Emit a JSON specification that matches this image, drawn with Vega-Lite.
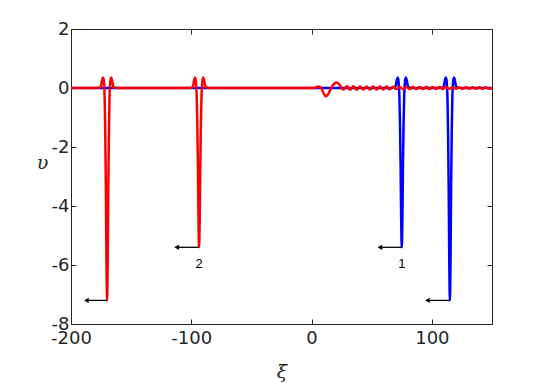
{
  "$schema": "https://vega.github.io/schema/vega-lite/v6.json",
  "width": 421,
  "height": 295,
  "autosize": {"type": "none"},
  "padding": {"left": 71, "top": 29, "right": 53, "bottom": 59},
  "background": "white",
  "config": {
    "view": {"stroke": null},
    "axis": {
      "domainColor": "#262626",
      "tickColor": "#262626",
      "labelColor": "#262626",
      "labelFont": "DejaVu Sans",
      "labelFontSize": 18,
      "labelFlush": false,
      "labelOverlap": false,
      "grid": false,
      "domainWidth": 1,
      "tickWidth": 1,
      "tickSize": -5
    }
  },
  "datasets": {
    "blue": [
      {"xi": -200, "v": 0}, {"xi": 66, "v": 0}, {"xi": 69, "v": 0.02}, {"xi": 70.1, "v": 0.09}, {"xi": 70.8, "v": 0.25},
      {"xi": 71.6, "v": 0.36}, {"xi": 72.1, "v": 0.3}, {"xi": 72.6, "v": 0.05}, {"xi": 73, "v": -0.27}, {"xi": 73.5, "v": -1.19},
      {"xi": 74, "v": -2.59}, {"xi": 74.45, "v": -4.32}, {"xi": 74.78, "v": -5.18}, {"xi": 75, "v": -5.4}, {"xi": 75.22, "v": -5.18},
      {"xi": 75.55, "v": -4.32}, {"xi": 76, "v": -2.59}, {"xi": 76.5, "v": -1.19}, {"xi": 77, "v": -0.27}, {"xi": 77.4, "v": 0.05},
      {"xi": 77.9, "v": 0.3}, {"xi": 78.4, "v": 0.36}, {"xi": 79.2, "v": 0.25}, {"xi": 79.9, "v": 0.09}, {"xi": 81, "v": 0.02},
      {"xi": 84, "v": 0},
      {"xi": 106, "v": 0}, {"xi": 109, "v": 0.02}, {"xi": 110.1, "v": 0.09}, {"xi": 110.8, "v": 0.25},
      {"xi": 111.6, "v": 0.36}, {"xi": 112.1, "v": 0.3}, {"xi": 112.6, "v": 0.05}, {"xi": 113, "v": -0.36}, {"xi": 113.5, "v": -1.58},
      {"xi": 114, "v": -3.46}, {"xi": 114.45, "v": -5.76}, {"xi": 114.78, "v": -6.91}, {"xi": 115, "v": -7.2}, {"xi": 115.22, "v": -6.91},
      {"xi": 115.55, "v": -5.76}, {"xi": 116, "v": -3.46}, {"xi": 116.5, "v": -1.58}, {"xi": 117, "v": -0.36}, {"xi": 117.4, "v": 0.05},
      {"xi": 117.9, "v": 0.3}, {"xi": 118.4, "v": 0.36}, {"xi": 119.2, "v": 0.25}, {"xi": 119.9, "v": 0.09}, {"xi": 121, "v": 0.02},
      {"xi": 124, "v": 0}, {"xi": 150, "v": 0}
    ],
    "red": [
      {"xi": -200, "v": 0}, {"xi": -179, "v": 0}, {"xi": -176, "v": 0.02}, {"xi": -174.9, "v": 0.09}, {"xi": -174.2, "v": 0.25},
      {"xi": -173.4, "v": 0.36}, {"xi": -172.9, "v": 0.3}, {"xi": -172.4, "v": 0.05}, {"xi": -172, "v": -0.36}, {"xi": -171.5, "v": -1.58},
      {"xi": -171, "v": -3.46}, {"xi": -170.55, "v": -5.76}, {"xi": -170.22, "v": -6.91}, {"xi": -170, "v": -7.2}, {"xi": -169.78, "v": -6.91},
      {"xi": -169.45, "v": -5.76}, {"xi": -169, "v": -3.46}, {"xi": -168.5, "v": -1.58}, {"xi": -168, "v": -0.36}, {"xi": -167.6, "v": 0.05},
      {"xi": -167.1, "v": 0.3}, {"xi": -166.6, "v": 0.36}, {"xi": -165.8, "v": 0.25}, {"xi": -165.1, "v": 0.09}, {"xi": -164, "v": 0.02},
      {"xi": -161, "v": 0},
      {"xi": -102.5, "v": 0}, {"xi": -99.5, "v": 0.02}, {"xi": -98.4, "v": 0.09}, {"xi": -97.7, "v": 0.25},
      {"xi": -96.9, "v": 0.36}, {"xi": -96.4, "v": 0.3}, {"xi": -95.9, "v": 0.05}, {"xi": -95.5, "v": -0.27}, {"xi": -95, "v": -1.19},
      {"xi": -94.5, "v": -2.59}, {"xi": -94.05, "v": -4.32}, {"xi": -93.72, "v": -5.18}, {"xi": -93.5, "v": -5.4}, {"xi": -93.28, "v": -5.18},
      {"xi": -92.95, "v": -4.32}, {"xi": -92.5, "v": -2.59}, {"xi": -92, "v": -1.19}, {"xi": -91.5, "v": -0.27}, {"xi": -91.1, "v": 0.05},
      {"xi": -90.6, "v": 0.3}, {"xi": -90.1, "v": 0.36}, {"xi": -89.3, "v": 0.25}, {"xi": -88.6, "v": 0.09}, {"xi": -87.5, "v": 0.02},
      {"xi": -84.5, "v": 0},
      {"xi": 0, "v": 0}, {"xi": 3, "v": 0.01}, {"xi": 5.5, "v": 0.05}, {"xi": 8, "v": 0.0}, {"xi": 10, "v": -0.18},
      {"xi": 12, "v": -0.28}, {"xi": 14, "v": -0.2}, {"xi": 16.5, "v": 0.02}, {"xi": 19, "v": 0.15}, {"xi": 21, "v": 0.19},
      {"xi": 23, "v": 0.12}, {"xi": 25, "v": 0.0},
      {"xi": 26.5, "v": -0.055}, {"xi": 29.25, "v": 0.06}, {"xi": 32, "v": -0.058}, {"xi": 34.75, "v": 0.057},
      {"xi": 37.5, "v": -0.056}, {"xi": 40.25, "v": 0.055}, {"xi": 43, "v": -0.054}, {"xi": 45.75, "v": 0.053},
      {"xi": 48.5, "v": -0.052}, {"xi": 51.25, "v": 0.051}, {"xi": 54, "v": -0.05}, {"xi": 56.75, "v": 0.049},
      {"xi": 59.5, "v": -0.048}, {"xi": 62.25, "v": 0.047}, {"xi": 65, "v": -0.046}, {"xi": 67.75, "v": 0.045},
      {"xi": 70.5, "v": -0.044}, {"xi": 73.25, "v": 0.043}, {"xi": 76, "v": -0.042}, {"xi": 78.75, "v": 0.041},
      {"xi": 81.5, "v": -0.04}, {"xi": 84.25, "v": 0.039}, {"xi": 87, "v": -0.038}, {"xi": 89.75, "v": 0.037},
      {"xi": 92.5, "v": -0.036}, {"xi": 95.25, "v": 0.035}, {"xi": 98, "v": -0.034}, {"xi": 100.75, "v": 0.034},
      {"xi": 103.5, "v": -0.033}, {"xi": 106.25, "v": 0.032}, {"xi": 109, "v": -0.031}, {"xi": 111.75, "v": 0.03},
      {"xi": 114.5, "v": -0.03}, {"xi": 117.25, "v": 0.029}, {"xi": 120, "v": -0.028}, {"xi": 122.75, "v": 0.028},
      {"xi": 125.5, "v": -0.027}, {"xi": 128.25, "v": 0.026}, {"xi": 131, "v": -0.026}, {"xi": 133.75, "v": 0.025},
      {"xi": 136.5, "v": -0.025}, {"xi": 139.25, "v": 0.024}, {"xi": 142, "v": -0.024}, {"xi": 144.75, "v": 0.023},
      {"xi": 147.5, "v": -0.023}, {"xi": 150, "v": 0.0}
    ],
    "arrows": [
      {"from": -170, "to": -188, "v": -7.2},
      {"from": -93.5, "to": -113, "v": -5.4},
      {"from": 75, "to": 56, "v": -5.4},
      {"from": 115, "to": 95.5, "v": -7.2}
    ],
    "labels": [
      {"xi": -93.5, "v": -5.97, "label": "2"},
      {"xi": 75, "v": -5.97, "label": "1"}
    ]
  },
  "layer": [
    {
      "data": {"name": "blue"},
      "mark": {"type": "line", "color": "#0000ff", "strokeWidth": 2.5, "interpolate": "monotone"},
      "encoding": {
        "x": {"field": "xi", "type": "quantitative",
          "scale": {"domain": [-200, 150], "nice": false, "zero": false},
          "axis": {"orient": "bottom", "values": [-200, -100, 0, 100], "labelPadding": 10,
            "labelExpr": "toString(datum.value)",
            "title": "ξ", "titleFont": "DejaVu Serif", "titleFontStyle": "italic", "titleFontWeight": "normal",
            "titleFontSize": 19, "titleColor": "#262626", "titleY": 47, "titleBaseline": "middle"}},
        "y": {"field": "v", "type": "quantitative",
          "scale": {"domain": [-8, 2], "nice": false, "zero": false},
          "axis": {"orient": "left", "values": [-8, -6, -4, -2, 0, 2], "labelPadding": 7,
            "labelExpr": "toString(datum.value)",
            "title": "υ", "titleFont": "DejaVu Serif", "titleFontStyle": "italic", "titleFontWeight": "normal",
            "titleFontSize": 19, "titleColor": "#262626", "titleAngle": 0, "titleX": -29, "titleY": 133,
            "titleAlign": "center", "titleBaseline": "middle"}}
      }
    },
    {
      "data": {"name": "red"},
      "mark": {"type": "line", "color": "#ff0000", "strokeWidth": 2.5, "interpolate": "monotone"},
      "encoding": {
        "x": {"field": "xi", "type": "quantitative",
          "axis": {"orient": "top", "values": [-200, -100, 0, 100], "labels": false, "title": null}},
        "y": {"field": "v", "type": "quantitative",
          "axis": {"orient": "right", "values": [-8, -6, -4, -2, 0, 2], "labels": false, "title": null}}
      }
    },
    {
      "data": {"name": "arrows"},
      "mark": {"type": "rule", "color": "black", "strokeWidth": 1.3},
      "encoding": {
        "x": {"field": "from", "type": "quantitative", "axis": null},
        "x2": {"field": "to"},
        "y": {"field": "v", "type": "quantitative", "axis": null}
      }
    },
    {
      "data": {"name": "arrows"},
      "mark": {"type": "point", "shape": "triangle-left", "filled": true, "color": "black", "size": 28, "opacity": 1, "xOffset": 1},
      "encoding": {
        "x": {"field": "to", "type": "quantitative", "axis": null},
        "y": {"field": "v", "type": "quantitative", "axis": null}
      }
    },
    {
      "data": {"name": "labels"},
      "mark": {"type": "text", "font": "Liberation Sans", "fontSize": 13, "color": "black", "align": "center", "baseline": "middle"},
      "encoding": {
        "x": {"field": "xi", "type": "quantitative", "axis": null},
        "y": {"field": "v", "type": "quantitative", "axis": null},
        "text": {"field": "label"}
      }
    }
  ],
  "resolve": {"axis": {"x": "independent", "y": "independent"}}
}
